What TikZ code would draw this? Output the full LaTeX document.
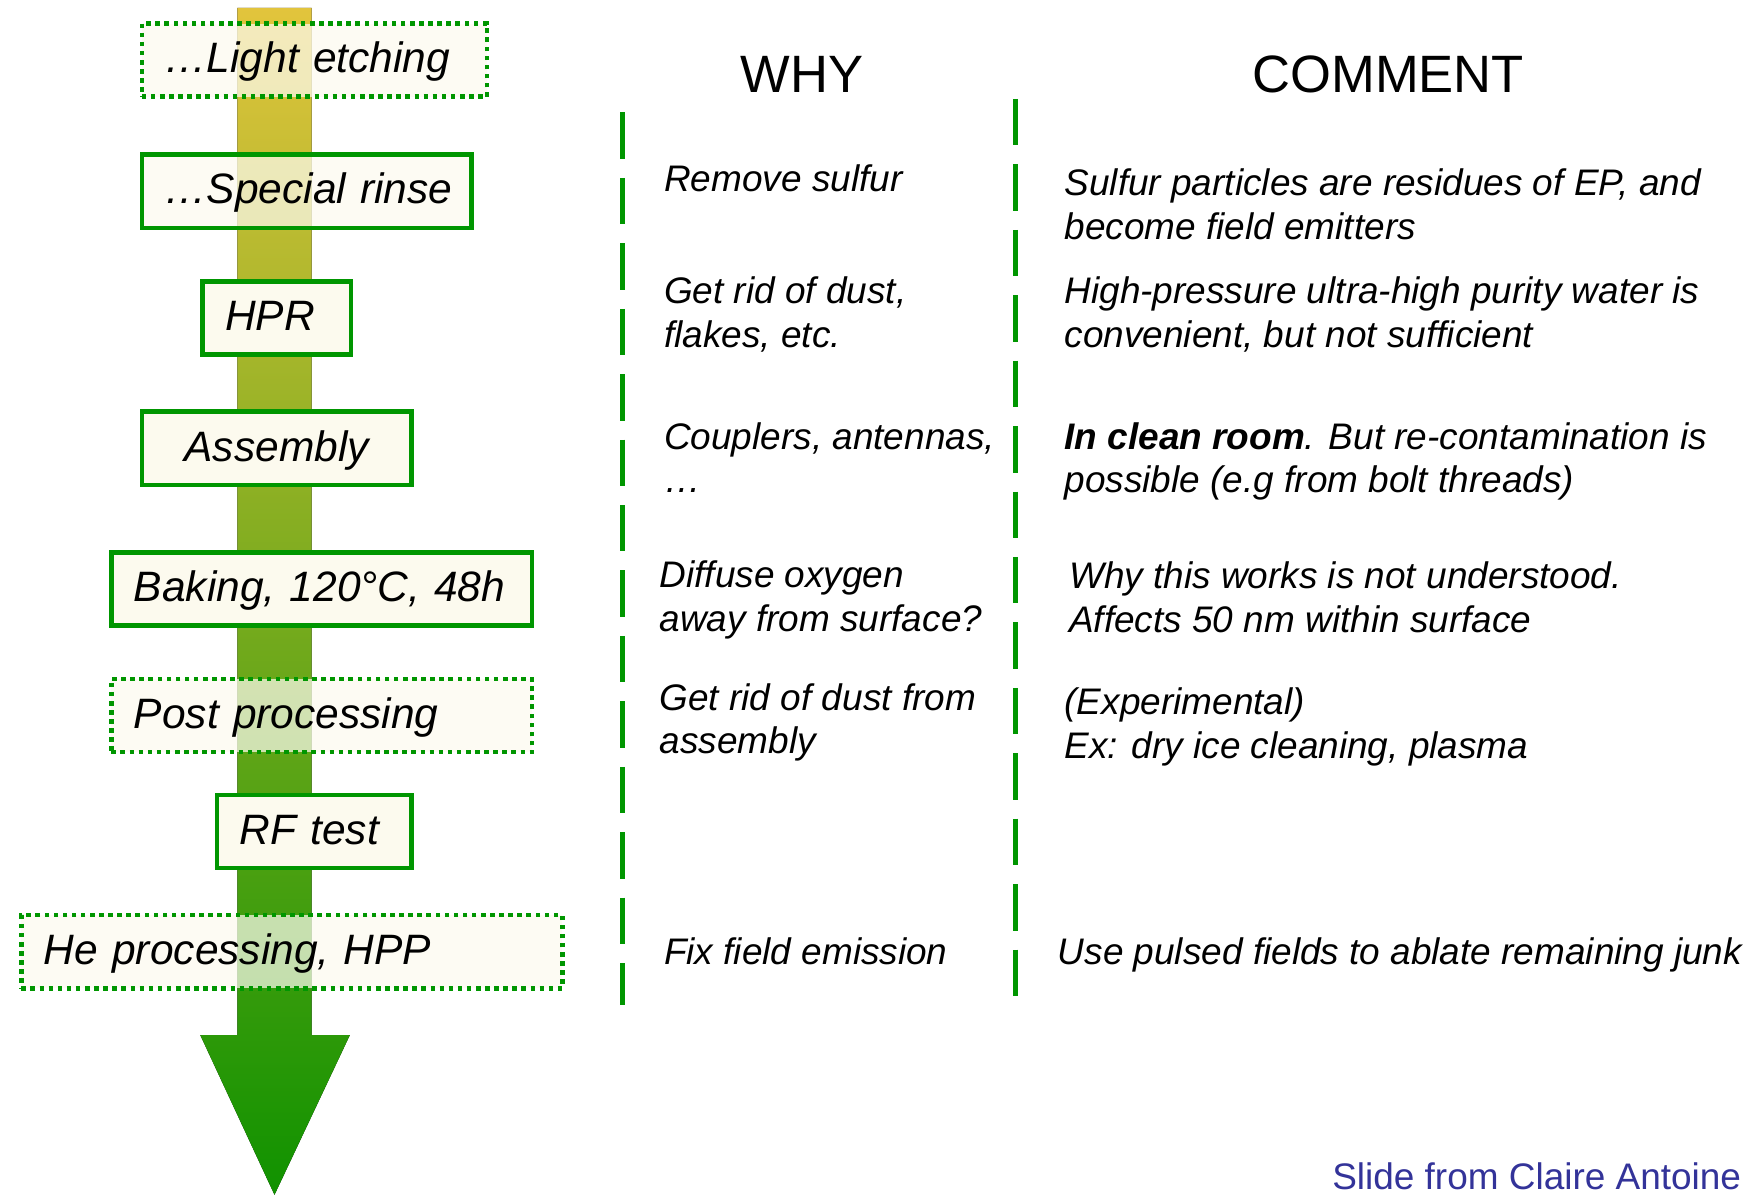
\documentclass[tikz,border=0pt]{standalone}
\usepackage{fontspec}
\setmainfont{Liberation Sans}
\definecolor{boxgreen}{RGB}{0,150,0}
\definecolor{boxfill}{RGB}{252,250,238}
\definecolor{shafttop}{RGB}{226,196,60}
\definecolor{shaftmid}{RGB}{165,176,48}
\definecolor{shaftbot}{RGB}{16,146,0}
\definecolor{credit}{RGB}{51,51,153}
\newcommand{\boxfont}{\fontsize{21.5}{25}\selectfont\itshape}
\newcommand{\notefont}{\fontsize{18.7}{22.1}\selectfont\itshape}
\newcommand{\headfont}{\fontsize{26.6}{30}\selectfont}

\begin{document}
\begin{tikzpicture}[x=0.02cm, y=-0.02cm,
    stepbox/.style={draw=boxgreen, line width=2.3pt, fill=boxfill, anchor=west, align=left,
      minimum height=1.3cm, inner xsep=0.4cm, inner ysep=0pt,
      text height=17.2pt, text depth=4.3pt, font=\boxfont},
    optbox/.style={stepbox, dash pattern=on 2.3pt off 2.3pt},
    seethru/.style={fill opacity=0.72, text opacity=1},
    note/.style={anchor=base west, align=left, inner sep=0pt, font=\notefont},
    colhead/.style={anchor=base, inner sep=0pt, font=\headfont},
    sep/.style={draw=boxgreen, line width=2.5pt, dash pattern=on 23.5pt off 9.6pt}]
  \useasboundingbox (0,0) rectangle (1568,1064);

  % process arrow
  \fill[top color=shafttop, middle color=shaftmid, bottom color=shaftbot]
    (211,7) -- (277,7) -- (277,920) -- (311,920) -- (244,1062)
    -- (178,920) -- (211,920) -- cycle;

  % steps
  \node[optbox, seethru, text width=5.34cm] (etch) at (124,53.5) {\mbox{…Light etching}};
  \node[stepbox, seethru, text width=5.06cm] (rinse) at (124,170) {\mbox{…Special rinse}};
  \node[stepbox, text width=1.84cm] (hpr) at (178,282.5) {HPR};
  \node[stepbox, align=center, text width=4.0cm] (assy) at (124,398.5) {Assembly};
  \node[stepbox, text width=6.68cm] (bake) at (97,523.5) {Baking, 120°C, 48h};
  \node[optbox, seethru, text width=6.68cm] (post) at (97,636) {Post processing};
  \node[stepbox, text width=2.66cm] (rf) at (191,739) {RF test};
  \node[optbox, seethru, text width=8.82cm] (hepp) at (17,846) {He processing, HPP};

  % column heads
  \node[colhead] (why) at (713,82) {WHY};
  \node[colhead] (comment) at (1234,82) {COMMENT};

  \coordinate (whytop) at (553,100);
  \coordinate (whybot) at (553,893);
  \coordinate (cmttop) at (903,88);
  \coordinate (cmtbot) at (903,893);
  \draw[sep] (whytop) -- (whybot);
  \draw[sep] (cmttop) -- (cmtbot);

  % why (base = last line)
  \node[note] (w1) at (590,170) {Remove sulfur};
  \node[note] (w2) at (590,309) {Get rid of dust,\\flakes, etc.};
  \node[note] (w3) at (590,438) {Couplers, antennas,\\…};
  \node[note] (w4) at (586,561) {Diffuse oxygen\\away from surface?};
  \node[note] (w5) at (586,670) {Get rid of dust from\\assembly};
  \node[note] (w6) at (590,857) {Fix field emission};

  % comments
  \node[note] (c1) at (946,213) {Sulfur particles are residues of EP, and\\become field emitters};
  \node[note] (c2) at (946,309) {High-pressure ultra-high purity water is\\convenient, but not sufficient};
  \node[note] (c3) at (946,438) {\textbf{In clean room}. But re-contamination is\\possible (e.g from bolt threads)};
  \node[note] (c4) at (950,562) {Why this works is not understood.\\Affects 50 nm within surface};
  \node[note] (c5) at (946,674) {(Experimental)\\Ex: dry ice cleaning, plasma};
  \node[note] (c6) at (940,857) {Use pulsed fields to ablate remaining junk};

  \node[anchor=base east, inner sep=0pt, text depth=0pt, font={\notefont\upshape}, text=credit] (credit)
    at (1548,1057) {Slide from Claire Antoine};
\end{tikzpicture}
\end{document}
